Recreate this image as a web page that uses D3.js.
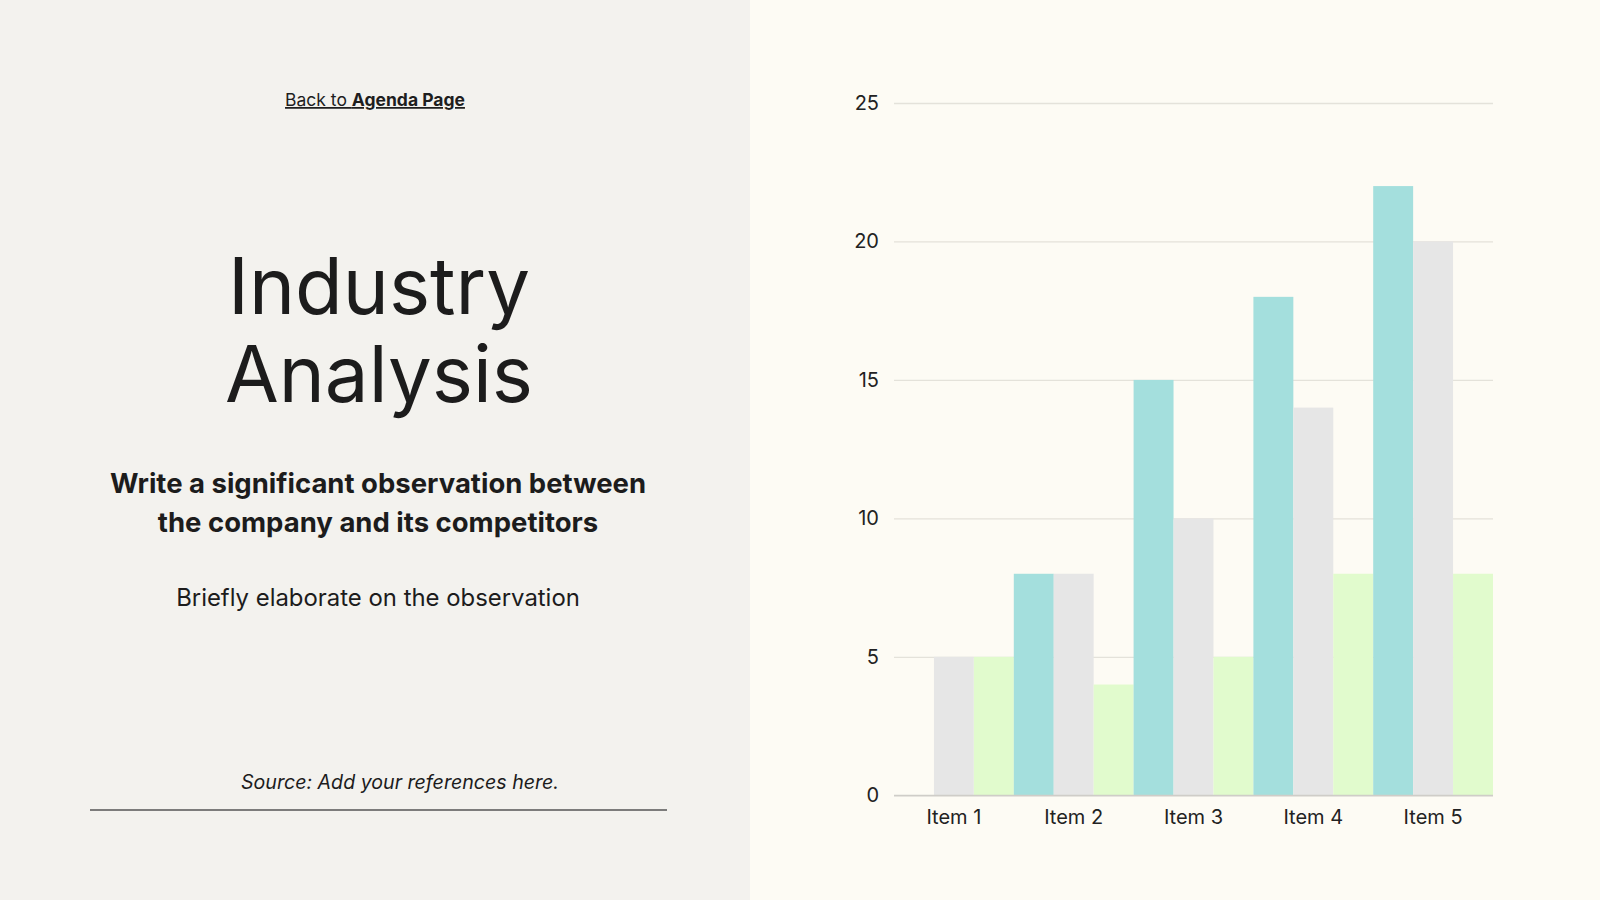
<!DOCTYPE html>
<html>
<head>
<meta charset="utf-8">
<script src="https://cdn.jsdelivr.net/npm/d3@7"></script>
<style>
  html, body { margin: 0; padding: 0; background: #fdfbf4; }
  svg { display: block; }
  text { font-family: "Inter", "Lato", "DejaVu Sans", sans-serif; }
</style>
</head>
<body>
<svg id="chart" width="1600" height="900"></svg>
<script>
// ---- data ----
const categories = ["Item 1", "Item 2", "Item 3", "Item 4", "Item 5"];
const seriesNames = ["Series 1", "Series 2", "Series 3"];
const series1 = [0, 8, 15, 18, 22];
const series2 = [5, 8, 10, 14, 20];
const series3 = [5, 4, 5, 8, 8];
const yTicks = [0, 5, 10, 15, 20, 25];
const seriesColors = ["#a4dfdd", "#e6e6e6", "#e1fbcd"];

const svg = d3.select("#chart");

// ---- backgrounds ----
svg.append("rect").attr("x", 0).attr("y", 0).attr("width", 750).attr("height", 900).attr("fill", "#f3f2ee");
svg.append("rect").attr("x", 750).attr("y", 0).attr("width", 850).attr("height", 900).attr("fill", "#fdfbf4");

// ---- left panel text ----
const back = svg.append("text")
  .attr("x", 375).attr("y", 106)
  .attr("text-anchor", "middle")
  .attr("font-size", 17.5)
  .attr("fill", "#1e1e1e")
  .style("text-decoration", "underline");
back.append("tspan").text("Back to ");
back.append("tspan").attr("font-weight", 700).text("Agenda Page");

const title = svg.append("text")
  .attr("text-anchor", "middle")
  .attr("font-size", 78)
  .attr("font-weight", 400)
  .attr("fill", "#1c1c1c");
title.append("tspan").attr("x", 379).attr("y", 314).text("Industry");
title.append("tspan").attr("x", 379).attr("y", 402).text("Analysis");

const sub = svg.append("text")
  .attr("text-anchor", "middle")
  .attr("font-size", 27.5)
  .attr("font-weight", 700)
  .attr("fill", "#1c1c1c");
sub.append("tspan").attr("x", 378).attr("y", 493).text("Write a significant observation between");
sub.append("tspan").attr("x", 378).attr("y", 532).text("the company and its competitors");

svg.append("text")
  .attr("x", 378).attr("y", 606)
  .attr("text-anchor", "middle")
  .attr("font-size", 23.9)
  .attr("fill", "#1c1c1c")
  .text("Briefly elaborate on the observation");

svg.append("text")
  .attr("x", 400).attr("y", 789)
  .attr("text-anchor", "middle")
  .attr("font-size", 19.6)
  .attr("font-style", "italic")
  .attr("fill", "#1c1c1c")
  .text("Source: Add your references here.");

svg.append("line")
  .attr("x1", 90).attr("x2", 667)
  .attr("y1", 810).attr("y2", 810)
  .attr("stroke", "#555")
  .attr("stroke-width", 1.3);

// ---- chart ----
const plot = { left: 894, right: 1493, top: 103, bottom: 795.3 };
const x0 = d3.scaleBand().domain(categories).range([plot.left, plot.right]).padding(0);
const x1 = d3.scaleBand().domain(seriesNames).range([0, x0.bandwidth()]).padding(0);
const y = d3.scaleLinear().domain([0, 25]).range([plot.bottom, plot.top]);

const color = d3.scaleOrdinal().domain(seriesNames).range(seriesColors);

// gridlines + y labels
const yAxis = svg.append("g")
  .attr("transform", `translate(${plot.left},0)`)
  .call(d3.axisLeft(y).tickValues(yTicks).tickSize(-(plot.right - plot.left)).tickPadding(15).tickFormat(d3.format("d")));
yAxis.select(".domain").remove();
yAxis.selectAll(".tick line")
  .attr("stroke", d => d === 0 ? "#cfcdc8" : "#e4e2da")
  .attr("stroke-width", 1.3);
yAxis.selectAll(".tick text")
  .attr("font-size", 20)
  .attr("fill", "#222")
  .style("font-family", '"Inter", "Lato", "DejaVu Sans", sans-serif');

// bars
const table = categories.map((c, i) => ({
  category: c,
  values: [series1[i], series2[i], series3[i]].map((v, j) => ({ key: seriesNames[j], value: v }))
}));

const groups = svg.append("g").selectAll("g")
  .data(table)
  .join("g")
  .attr("transform", d => `translate(${x0(d.category)},0)`);

groups.selectAll("rect")
  .data(d => d.values)
  .join("rect")
  .attr("x", d => x1(d.key))
  .attr("width", x1.bandwidth())
  .attr("y", d => y(d.value))
  .attr("height", d => y(0) - y(d.value))
  .attr("fill", d => color(d.key));

// baseline drawn over bars
svg.append("line")
  .attr("x1", plot.left).attr("x2", plot.right)
  .attr("y1", y(0)).attr("y2", y(0))
  .attr("stroke", "#cfcdc8")
  .attr("stroke-width", 1.3);

// x labels
const xAxis = svg.append("g")
  .attr("transform", `translate(0,${plot.bottom})`)
  .call(d3.axisBottom(x0).tickSize(0).tickPadding(15));
xAxis.select(".domain").remove();
xAxis.selectAll(".tick text")
  .attr("font-size", 20)
  .attr("fill", "#222")
  .style("font-family", '"Inter", "Lato", "DejaVu Sans", sans-serif');
</script>
</body>
</html>
